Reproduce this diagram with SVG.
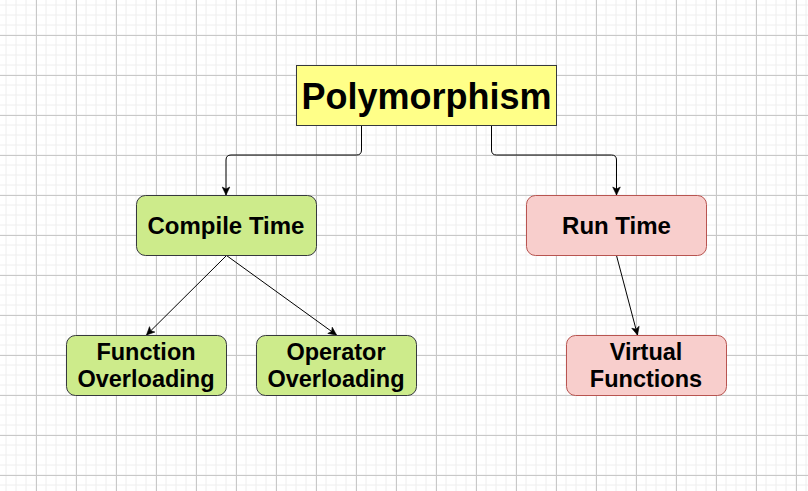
<svg xmlns="http://www.w3.org/2000/svg" width="808" height="491" viewBox="0 0 808 491">
<defs>
<pattern id="minor" patternUnits="userSpaceOnUse" x="1" y="0" width="10" height="10">
<path d="M5,0 V10 M0,5 H10" stroke="#eeeeee" stroke-width="1" fill="none"/>
</pattern>
<pattern id="major" patternUnits="userSpaceOnUse" x="0" y="0" width="40" height="40">
<path d="M36.5,0 V40 M0,35.5 H40" stroke="#c8c8c8" stroke-width="1" fill="none"/>
</pattern>
<marker id="arr" markerUnits="userSpaceOnUse" markerWidth="10" markerHeight="10" viewBox="0 0 10 10" refX="9" refY="5" orient="auto">
<path d="M1,1.2 L9,5 L1,8.8 L3,5 z" fill="#000" stroke="#000" stroke-width="0.6"/>
</marker>
<style>
.lbl{font-family:"Liberation Sans",Arial,sans-serif;font-weight:bold;fill:#000;text-anchor:middle}
.n{font-size:23.5px}
.m{font-size:24px}
.yel{fill:#ffff88;stroke:#36393d;stroke-width:1}
.grn{fill:#cdeb8b;stroke:#36393d;stroke-width:1}
.red{fill:#f8cecc;stroke:#b85450;stroke-width:1}
.con{fill:none;stroke:#000;stroke-width:1;marker-end:url(#arr)}
</style>
</defs>
<rect width="808" height="491" fill="#fff"/>
<rect width="808" height="491" fill="url(#minor)"/>
<rect width="808" height="491" fill="url(#major)"/>
<g id="connectors">
<path class="con" d="M361.5,125.5 V150 Q361.5,155 356.5,155 H231 Q226,155 226,160 V195"/>
<path class="con" d="M491.5,125.5 V150 Q491.5,155 496.5,155 H611.5 Q616.5,155 616.5,160 V195"/>
<path class="con" d="M226.5,255.5 L146.5,335"/>
<path class="con" d="M226.5,255.5 L336.5,335"/>
<path class="con" d="M616.5,255.5 L637.5,335"/>
</g>
<g id="polymorphism">
<rect class="yel" x="296.5" y="65.5" width="260" height="60"/>
<text class="lbl" x="426.5" y="109" font-size="36">Polymorphism</text>
</g>
<g id="compile-time">
<rect class="grn" x="136.5" y="195.5" width="180" height="60" rx="9" ry="9"/>
<text class="lbl m" x="226" y="233.5">Compile Time</text>
</g>
<g id="run-time">
<rect class="red" x="526.5" y="195.5" width="180" height="60" rx="9" ry="9"/>
<text class="lbl m" x="616.5" y="233.5">Run Time</text>
</g>
<g id="function-overloading">
<rect class="grn" x="66.5" y="335.5" width="160" height="60" rx="9" ry="9"/>
<text class="lbl n" x="146" y="359.5">Function</text>
<text class="lbl n" x="146" y="387">Overloading</text>
</g>
<g id="operator-overloading">
<rect class="grn" x="256.5" y="335.5" width="160" height="60" rx="9" ry="9"/>
<text class="lbl n" x="336" y="359.5">Operator</text>
<text class="lbl n" x="336" y="387">Overloading</text>
</g>
<g id="virtual-functions">
<rect class="red" x="566.5" y="335.5" width="160" height="60" rx="9" ry="9"/>
<text class="lbl n" x="646" y="359.5">Virtual</text>
<text class="lbl n" x="646" y="387">Functions</text>
</g>
</svg>
